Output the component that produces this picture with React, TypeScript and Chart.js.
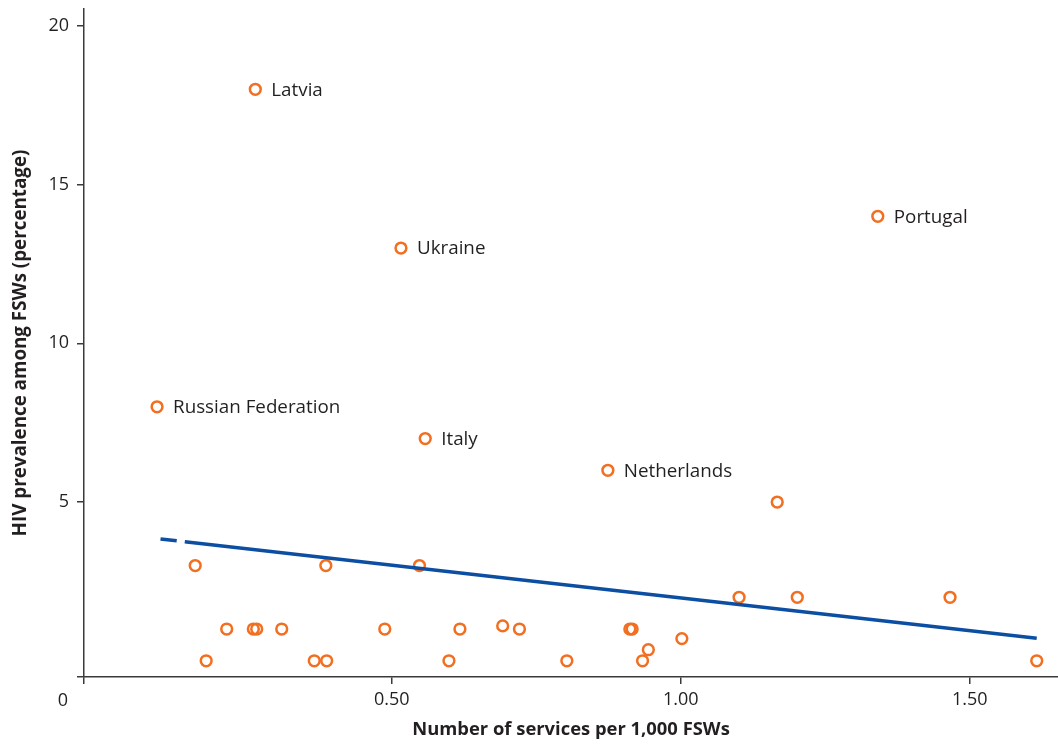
import React, { useEffect, useRef } from 'react';
import { Chart, registerables } from 'chart.js';

Chart.register(...registerables);

// Country observations: services per 1,000 FSWs vs HIV prevalence (%)
const servicesPer1000 = [
  0.094, 0.264, 0.516, 0.558, 0.874, 1.341, 1.167,
  0.160, 0.386, 0.548,
  0.2145, 0.2606, 0.2664, 0.3097, 0.488, 0.618, 0.692, 0.721, 0.912, 0.916,
  0.944, 1.002,
  1.101, 1.2017, 1.466,
  0.179, 0.366, 0.3875, 0.599, 0.803, 0.934, 1.616,
];
const hivPrevalence = [
  8, 18, 13, 7, 6, 14, 5,
  3, 3, 3,
  1, 1, 1, 1, 1, 1, 1.1, 1, 1, 1,
  0.35, 0.7,
  2, 2, 2,
  0, 0, 0, 0, 0, 0, 0,
];
const countryLabels = [
  'Russian Federation', 'Latvia', 'Ukraine', 'Italy', 'Netherlands', 'Portugal', '',
  '', '', '',
  '', '', '', '', '', '', '', '', '', '',
  '', '',
  '', '', '',
  '', '', '', '', '', '', '',
];

// Trend line (short dash at the start, then solid)
const trendDashX = [0.100, 0.128];
const trendDashY = [3.84, 3.78];
const trendSolidX = [0.142, 1.616];
const trendSolidY = [3.75, 0.71];

const xTickValues = [0.5, 1.0, 1.5];
const xTickLabels = ['0.50', '1.00', '1.50'];
const yTickValues = [5, 10, 15, 20];
const yTickLabels = ['5', '10', '15', '20'];
const originLabel = '0';
const xTitle = 'Number of services per 1,000 FSWs';
const yTitle = 'HIV prevalence among FSWs (percentage)';

const X_MIN = -0.0324;
const X_MAX = 1.6528;
const Y_MIN = -0.51;
const Y_MAX = 20.53;

const FONT = '"Open Sans", "Noto Sans", sans-serif';
const TEXT = '#231f20';
const AXIS = '#3a3a3a';
const ORANGE = '#f26f21';
const BLUE = '#0b4ea2';

const toXY = (xs: number[], ys: number[]) => xs.map((x, i) => ({ x, y: ys[i] }));

const labelPlugin = {
  id: 'pointLabels',
  afterDatasetsDraw(chart: any) {
    const ctx = chart.ctx;
    const meta = chart.getDatasetMeta(2);
    ctx.save();
    ctx.font = `18.8px ${FONT}`;
    ctx.fillStyle = TEXT;
    ctx.textBaseline = 'middle';
    ctx.textAlign = 'left';
    meta.data.forEach((el: any, i: number) => {
      const t = countryLabels[i];
      if (t) ctx.fillText(t, el.x + 16, el.y + 1);
    });
    const xs = chart.scales.x;
    ctx.font = `18px ${FONT}`;
    ctx.textAlign = 'center';
    ctx.fillText(originLabel, xs.left - 21, xs.top + 24);
    ctx.restore();
  },
};

const zeroPadding = (scale: any) => {
  scale.paddingTop = 0;
  scale.paddingBottom = 0;
  scale.paddingLeft = 0;
  scale.paddingRight = 0;
};

export default function App() {
  const ref = useRef<HTMLCanvasElement | null>(null);

  useEffect(() => {
    if (!ref.current) return;
    const chart = new Chart(ref.current, {
      type: 'scatter',
      data: {
        datasets: [
          {
            data: toXY(trendDashX, trendDashY),
            showLine: true,
            borderColor: BLUE,
            borderWidth: 3.5,
            pointRadius: 0,
            fill: false,
          },
          {
            data: toXY(trendSolidX, trendSolidY),
            showLine: true,
            borderColor: BLUE,
            borderWidth: 3.5,
            pointRadius: 0,
            fill: false,
          },
          {
            data: toXY(servicesPer1000, hivPrevalence),
            borderColor: ORANGE,
            backgroundColor: 'rgba(0,0,0,0)',
            pointRadius: 5.4,
            pointBorderWidth: 2.5,
            pointHoverRadius: 5.4,
          },
        ],
      },
      options: {
        animation: false,
        responsive: true,
        maintainAspectRatio: false,
        layout: { autoPadding: false, padding: { top: 9, right: 0, left: 0, bottom: 0 } },
        plugins: { legend: { display: false }, tooltip: { enabled: false } },
        font: { family: FONT },
        scales: {
          x: {
            type: 'linear',
            min: X_MIN,
            max: X_MAX,
            afterBuildTicks: (scale: any) => {
              scale.ticks = [X_MIN, ...xTickValues].map((v) => ({ value: v }));
            },
            afterFit: (scale: any) => {
              scale.height = 67;
              zeroPadding(scale);
            },
            ticks: {
              autoSkip: false,
              maxRotation: 0,
              padding: 5,
              color: TEXT,
              font: { family: FONT, size: 18 },
              callback: (v: any) => {
                const i = xTickValues.indexOf(Number(v));
                return i >= 0 ? xTickLabels[i] : '';
              },
            },
            grid: {
              drawOnChartArea: false,
              drawTicks: true,
              tickLength: 7,
              color: AXIS,
              lineWidth: 1.5,
            },
            border: { display: true, color: AXIS, width: 1.5 },
            title: {
              display: true,
              text: xTitle,
              color: TEXT,
              font: { family: FONT, size: 18.4, weight: 'bold' },
              padding: { top: 0, bottom: 3 },
            },
          },
          y: {
            type: 'linear',
            min: Y_MIN,
            max: Y_MAX,
            afterBuildTicks: (scale: any) => {
              scale.ticks = [Y_MIN, ...yTickValues].map((v) => ({ value: v }));
            },
            afterFit: (scale: any) => {
              scale.width = 84;
              zeroPadding(scale);
            },
            ticks: {
              autoSkip: false,
              padding: 8,
              color: TEXT,
              font: { family: FONT, size: 18 },
              callback: (v: any) => {
                const i = yTickValues.indexOf(Number(v));
                return i >= 0 ? yTickLabels[i] : '';
              },
            },
            grid: {
              drawOnChartArea: false,
              drawTicks: true,
              tickLength: 7,
              color: AXIS,
              lineWidth: 1.5,
            },
            border: { display: true, color: AXIS, width: 1.5 },
            title: {
              display: true,
              text: yTitle,
              color: TEXT,
              font: { family: FONT, size: 18.8, weight: 'bold' },
              padding: { top: 9, bottom: 0 },
            },
          },
        },
      } as any,
      plugins: [labelPlugin],
    });
    return () => chart.destroy();
  }, []);

  return (
    <div style={{ position: 'absolute', left: 0, top: 0, width: 1058, height: 744, background: '#fff' }}>
      <canvas ref={ref} />
    </div>
  );
}
